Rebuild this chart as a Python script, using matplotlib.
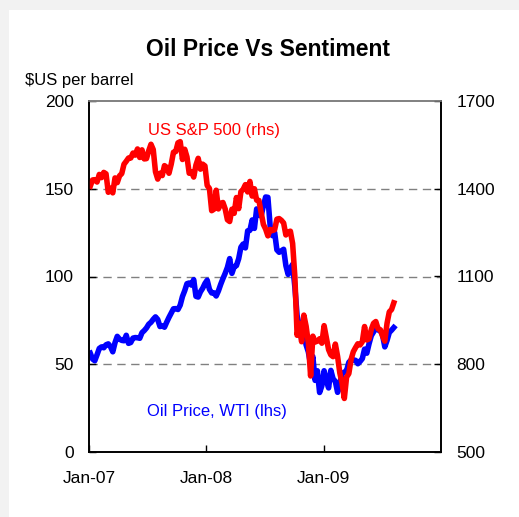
import matplotlib
matplotlib.use("Agg")
import matplotlib.pyplot as plt
import matplotlib.dates as mdates
from matplotlib.patches import Rectangle
import pandas as pd

plt.rcParams['font.family'] = ['Liberation Sans', 'DejaVu Sans']

# weekly closes (Fridays, from 5 Jan 2007)
sp500 = [
    1409, 1430, 1431, 1423, 1449, 1438, 1456, 1451, 1388, 1402, 1386, 1437, 1421,
    1444, 1452, 1484, 1494, 1505, 1505, 1522, 1515, 1536, 1507, 1533, 1502, 1503,
    1530, 1552, 1534, 1458, 1433, 1453, 1445, 1479, 1473, 1453, 1484, 1525, 1527,
    1557, 1561, 1500, 1535, 1509, 1453, 1458, 1440, 1481, 1504, 1467, 1484, 1478,
    1411, 1401, 1325, 1330, 1395, 1331, 1350, 1353, 1331, 1294, 1288, 1330, 1316,
    1370, 1332, 1390, 1398, 1414, 1389, 1425, 1375, 1400, 1361, 1360, 1318, 1278,
    1262, 1239, 1261, 1257, 1260, 1296, 1298, 1292, 1283, 1242, 1252, 1255, 1213,
    1099, 899, 940, 877, 968, 930, 873, 760, 896, 876, 879, 887, 872,
    932, 890, 850, 832, 826, 869, 827, 770, 735, 683, 756, 768, 816,
    843, 857, 870, 866, 877, 929, 883, 887, 919, 940, 946, 921, 918,
    896, 879, 940, 979, 987, 1010,
]
wti = [
    56.3, 53.0, 52.0, 55.4, 59.0, 59.9, 59.4, 61.1, 61.6, 60.0, 57.1, 62.3, 65.9,
    64.3, 63.6, 63.4, 66.5, 61.9, 62.4, 64.9, 65.2, 65.1, 64.8, 68.0, 69.2, 70.7,
    72.8, 73.9, 75.6, 77.0, 75.5, 71.5, 71.9, 71.1, 74.0, 76.7, 79.1, 81.6, 81.7,
    81.2, 83.7, 88.6, 91.9, 95.9, 96.3, 95.1, 98.2, 88.7, 88.3, 91.3, 93.3, 96.0,
    97.9, 92.7, 90.6, 90.7, 88.9, 91.8, 95.5, 98.8, 101.8, 105.2, 110.2, 101.8, 105.6,
    106.2, 110.1, 116.7, 118.5, 116.3, 126.0, 126.3, 132.2, 127.4, 138.5, 134.9, 134.6, 140.2,
    145.3, 145.1, 128.9, 123.3, 125.1, 115.2, 113.8, 114.6, 115.5, 106.2, 101.2, 104.6, 106.9,
    93.9, 77.7, 71.9, 64.2, 67.8, 61.0, 57.0, 49.9, 54.4, 40.8, 46.3, 33.9, 37.7,
    46.3, 40.8, 36.5, 46.5, 41.7, 40.2, 34.0, 38.9, 44.8, 45.5, 46.3, 51.1, 52.4,
    52.5, 52.2, 50.3, 51.6, 53.2, 58.6, 56.3, 61.7, 66.3, 68.4, 72.0, 69.5, 69.2,
    66.7, 59.9, 63.6, 68.1, 69.4, 70.9,
]
sp_dates = pd.date_range('2007-01-05', periods=len(sp500), freq='W-FRI')
wti_dates = pd.date_range('2007-01-05', periods=len(wti), freq='W-FRI')

x_ticks = pd.to_datetime(['2007-01-01', '2008-01-01', '2009-01-01'])
left_ticks = [0, 50, 100, 150, 200]
right_ticks = [500, 800, 1100, 1400, 1700]

fig = plt.figure(figsize=(5.19, 5.17), dpi=100, facecolor='#f2f2f2')
fig.patches.append(Rectangle((9 / 519, 0), 1, 1 - 10 / 517, transform=fig.transFigure,
                             facecolor='white', edgecolor='none', zorder=-10))

ax = fig.add_axes([89 / 519, 1 - 452 / 517, 352 / 519, 351 / 517])
ax2 = ax.twinx()

ax.plot(wti_dates, wti, color='#0000ff', lw=4, solid_joinstyle='round')
ax2.plot(sp_dates, sp500, color='#ff0000', lw=4, solid_joinstyle='round')

ax.set_xlim(pd.Timestamp('2007-01-01'), pd.Timestamp('2010-01-01'))
ax.set_ylim(0, 200)
ax2.set_ylim(500, 1700)
ax.set_yticks(left_ticks)
ax2.set_yticks(right_ticks)
ax.set_xticks(x_ticks)
ax.xaxis.set_major_formatter(mdates.DateFormatter('%b-%y'))

for y in [50, 100, 150]:
    ax.axhline(y, color='#808080', lw=1.0, dashes=(6, 4), zorder=0.5)

ax.tick_params(axis='y', direction='in', length=5, width=1, labelsize=12.5, pad=11)
ax.tick_params(axis='x', direction='in', length=5, width=1, labelsize=12.5, pad=14)
ax2.tick_params(axis='y', direction='in', length=5, width=1, labelsize=12.5, pad=11)

for a in (ax, ax2):
    a.spines['top'].set_color('#808080')
    for s in ('left', 'bottom', 'right'):
        a.spines[s].set_color('black')
    for s in a.spines.values():
        s.set_linewidth(1.2)

ax.text(0.168, 0.917, 'US S&P 500 (rhs)', transform=ax.transAxes, color='#ff0000',
        fontsize=12, ha='left', va='center')
ax.text(0.165, 0.114, 'Oil Price, WTI (lhs)', transform=ax.transAxes, color='#0000ff',
        fontsize=12, ha='left', va='center')

fig.text(268 / 519, 1 - 50 / 517, 'Oil Price Vs Sentiment', fontsize=16.5,
         fontweight='bold', ha='center', va='center')
fig.text(25 / 519, 1 - 80 / 517, r'\$US per barrel', fontsize=12, ha='left', va='center')

fig.savefig('out.png', dpi=100, facecolor=fig.get_facecolor())
